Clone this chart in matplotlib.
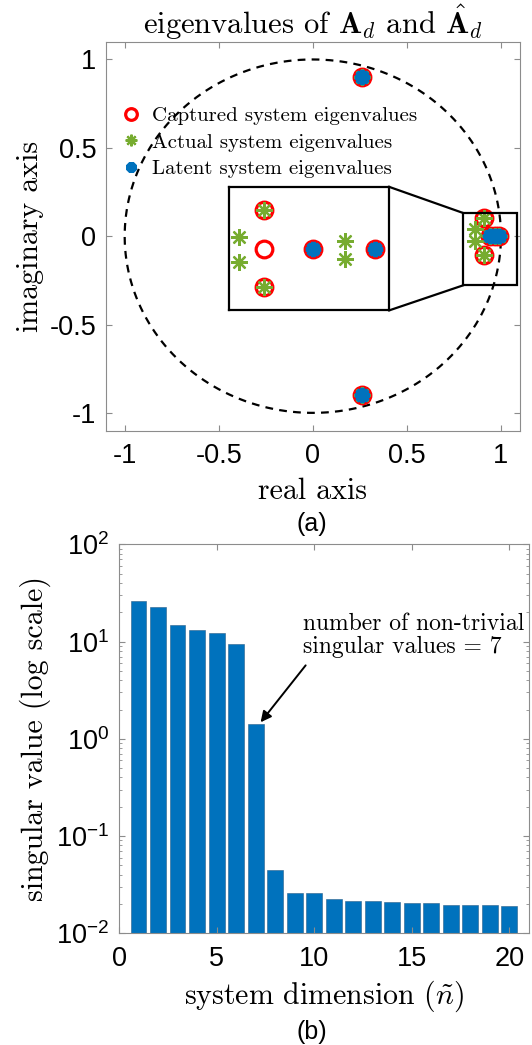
import numpy as np
import matplotlib
matplotlib.use("Agg")
import matplotlib.pyplot as plt
from matplotlib.patches import Rectangle
from matplotlib.ticker import FuncFormatter, LogLocator, NullFormatter

plt.rcParams['font.family'] = ['Liberation Sans', 'DejaVu Sans']
plt.rcParams['mathtext.fontset'] = 'cm'
plt.rcParams['axes.unicode_minus'] = False

# eigenvalues, main view (real, imag)
captured_re = [0.26, 0.26, 0.91, 0.91, 0.94, 0.97, 0.99]
captured_im = [0.90, -0.90, 0.105, -0.105, 0.0, 0.0, 0.0]
actual_re = [0.26, 0.26, 0.86, 0.86, 0.91, 0.91, 0.94, 0.97, 0.99]
actual_im = [0.90, -0.90, 0.04, -0.03, 0.105, -0.105, 0.0, 0.0, 0.0]
latent_re = [0.26, 0.26, 0.94, 0.97, 0.99]
latent_im = [0.90, -0.90, 0.0, 0.0, 0.0]

# eigenvalues shown in the zoomed inset
zoom_cap_re = [0.875, 0.875, 0.875, 0.924, 0.986]
zoom_cap_im = [0.10, -0.10, 0.0, 0.0, 0.0]
zoom_act_re = [0.850, 0.850, 0.875, 0.875, 0.956, 0.956]
zoom_act_im = [0.03, -0.034, 0.10, -0.10, 0.021, -0.028]
zoom_lat_re = [0.924, 0.986]
zoom_lat_im = [0.0, 0.0]

# singular values
dims = np.arange(1, 21)
sing_vals = [25.9, 22.5, 14.7, 13.1, 12.4, 9.4, 1.41, 0.0445, 0.026, 0.0258,
             0.0224, 0.0214, 0.0213, 0.0210, 0.0206, 0.0204, 0.0197, 0.0197,
             0.0196, 0.0190]

red = '#FF0000'
green = '#77AC30'
blue = '#0072BD'
spine_gray = '#8c8c8c'
serif = ['cmr10', 'DejaVu Serif']

fig = plt.figure(figsize=(5.32, 10.45), dpi=100)


def style_axes(ax):
    for s in ax.spines.values():
        s.set_color(spine_gray)
        s.set_linewidth(0.8)
    ax.tick_params(direction='in', top=True, right=True, length=4,
                   color=spine_gray, labelsize=19.5, labelcolor='k', pad=7)
    ax.tick_params(axis='x', pad=9)
    ax.tick_params(which='minor', direction='in', top=True, right=True,
                   length=2.5, color=spine_gray)


def plot_eigs(ax, cre, cim, are, aim, lre, lim):
    ax.plot(cre, cim, 'o', ls='none', mfc='none', mec=red, ms=12, mew=2.3,
            label='Captured system eigenvalues')
    ax.plot(are, aim, marker=(8, 2, 0), ls='none', mec=green, mfc=green,
            ms=12, mew=1.6, label='Actual system eigenvalues')
    ax.plot(lre, lim, marker=(8, 2, 0), ls='none', mec=blue, mfc=blue,
            ms=11, mew=3.2, label='Latent system eigenvalues')


# ---- (a) eigenvalues ----
ax1 = fig.add_axes([0.199, 0.588, 0.778, 0.372])
style_axes(ax1)
t = np.linspace(0, 2 * np.pi, 400)
ax1.plot(np.cos(t), np.sin(t), 'k--', lw=1.6, dashes=(3.5, 2.8))
plot_eigs(ax1, captured_re, captured_im, actual_re, actual_im, latent_re, latent_im)
ax1.set_xlim(-1.1, 1.1)
ax1.set_ylim(-1.1, 1.1)
ax1.set_xticks([-1, -0.5, 0, 0.5, 1])
ax1.set_yticks([-1, -0.5, 0, 0.5, 1])
ax1.set_xticklabels(['-1', '-0.5', '0', '0.5', '1'])
ax1.set_yticklabels(['-1', '-0.5', '0', '0.5', '1'])
ax1.set_xlabel('real axis', fontfamily=serif, fontsize=21.5, labelpad=6)
ax1.set_ylabel('imaginary axis', fontfamily=serif, fontsize=21.5, labelpad=4)
ax1.set_title(r'eigenvalues of $\mathbf{A}_d$ and $\hat{\mathbf{A}}_d$',
              fontfamily=serif, fontsize=22, pad=3)
leg = ax1.legend(loc='upper left', bbox_to_anchor=(0.015, 0.855), frameon=False,
                 markerscale=0.7, handlelength=1.0, handletextpad=0.5,
                 labelspacing=0.38, borderaxespad=0,
                 prop={'family': serif, 'size': 15})

# zoom box, connectors and inset
ax1.add_patch(Rectangle((0.797, -0.279), 0.29, 0.411, fill=False, ec='k', lw=1.6, zorder=5))
ax1.plot([0.406, 0.797], [0.279, 0.132], 'k-', lw=1.6, zorder=5)
ax1.plot([0.406, 0.797], [-0.42, -0.279], 'k-', lw=1.6, zorder=5)
ins = ax1.inset_axes([-0.443, -0.42, 0.849, 0.699], transform=ax1.transData)
plot_eigs(ins, zoom_cap_re, zoom_cap_im, zoom_act_re, zoom_act_im, zoom_lat_re, zoom_lat_im)
ins.set_xlim(0.84, 1.0)
ins.set_ylim(-0.16, 0.16)
ins.set_xticks([])
ins.set_yticks([])
for s in ins.spines.values():
    s.set_linewidth(1.6)
    s.set_color('k')

fig.text(0.587, 1 - 524 / 1045, '(a)', ha='center', va='center', fontsize=18)

# ---- (b) singular values ----
ax2 = fig.add_axes([0.224, 0.107, 0.77, 0.372])
style_axes(ax2)
ax2.set_yscale('log')
ax2.bar(dims, sing_vals, width=0.8, color=blue, edgecolor='#2a5f8a', lw=0.4)
ax2.set_ylim(0.01, 100)
ax2.set_xlim(0, 21)
ax2.set_xticks([0, 5, 10, 15, 20])
ax2.yaxis.set_major_locator(LogLocator(base=10, numticks=10))
ax2.yaxis.set_major_formatter(FuncFormatter(lambda v, p: r'$\mathregular{10^{%d}}$' % round(np.log10(v))))
ax2.yaxis.set_minor_locator(LogLocator(base=10, subs=np.arange(2, 10), numticks=20))
ax2.yaxis.set_minor_formatter(NullFormatter())
ax2.set_xlabel(r'system dimension ($\tilde{n}$)', fontfamily=serif, fontsize=21.5, labelpad=5)
ax2.set_ylabel('singular value (log scale)', fontfamily=serif, fontsize=21.5, labelpad=4)
ax2.text(9.4, 11.5, 'number of non-trivial\nsingular values = 7', ha='left', va='center',
         fontfamily=serif, fontsize=17, linespacing=1.05)
ax2.annotate('', xy=(7.25, 1.48), xytext=(9.56, 5.7),
             arrowprops=dict(arrowstyle='-|>', color='k', lw=1.4,
                             mutation_scale=16, shrinkA=0, shrinkB=0))

fig.text(0.587, 1 - 1032 / 1045, '(b)', ha='center', va='center', fontsize=18)

fig.savefig('out.png', dpi=100)
